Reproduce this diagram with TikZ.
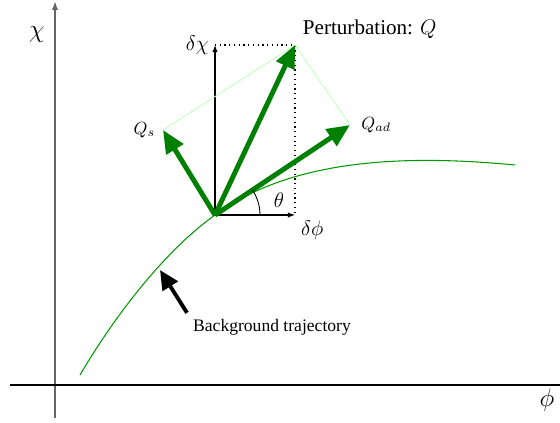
\documentclass[tikz,border=0pt]{standalone}
\usepackage{amsmath,amssymb}
\usepackage{fontspec}
\setmainfont{Liberation Serif}
\usetikzlibrary{arrows.meta,positioning,calc}

\tikzset{
  axis/.style={line width=0.8pt},
  pert/.style={green!50!black,line width=2.8pt,
               -{Triangle[length=13pt,width=11pt]}},
  comp/.style={green!25,line width=0.5pt},
  proj/.style={dotted,line width=0.7pt},
  small axis/.style={line width=0.6pt,-{Latex[length=4pt,width=3pt]}},
  bgarrow/.style={line width=2.2pt,-{Triangle[length=11pt,width=10pt]}},
}

\begin{document}
\begin{tikzpicture}[x=0.02cm,y=0.02cm]
\useasboundingbox (0,0) rectangle (560,422);
% Axes
\coordinate (chibot) at (55,4);
\coordinate (chitop) at (55,421);
\coordinate (phil) at (10,37);
\coordinate (phir) at (560,37);
\draw[axis,black!60,-{Latex[length=5pt,width=3.5pt]}] (chibot) -- (chitop);
\draw[axis] (phil) -- (phir);
\node (chilab) at (37,387) {\Large $\chi$};
\node (philab) at (547,22) {\Large $\phi$};

% Perturbation and its components
\coordinate (O) at (215,207);
\coordinate (Q) at (295,377);
\coordinate (Qs) at (163,292);
\coordinate (Qad) at (350,297);
\coordinate (dchi) at (215,377);
\coordinate (dphi) at (295,207);

% Background trajectory
\coordinate (trajstart) at (80,47);
\coordinate (trajend) at (515,257);
\draw[green!60!black,line width=0.6pt] (trajstart)
  .. controls (120,115) and (170,175) .. (O)
  .. controls (290,262) and (400,268) .. (trajend);

\draw[proj] (dchi) -- (Q) -- (dphi);
\draw[small axis] (O) -- (dchi);
\draw[small axis] (O) -- (dphi);
\draw[comp] (Qs) -- (Q) -- (Qad);
\draw[pert] (O) -- (Qs);
\draw[pert] (O) -- (Q);
\draw[pert] (O) -- (Qad);

% Angle
\draw[line width=0.5pt] ($(O)+(45,0)$) arc[start angle=0,end angle=33.7,radius=45];
\node (theta) at (279,222) {\large $\theta$};

% Labels
\node[left=0pt of dchi] (dchilab) {\large $\delta\chi$};
\node[below right=0pt and 0pt of dphi] (dphilab) {\large $\delta\phi$};
\node[above right=0pt and 1pt of Q] (qlab) {\large Perturbation: $Q$};
\node[left=1pt of Qs] (qslab) {$Q_s$};
\node[right=3pt of Qad] (qadlab) {$Q_{ad}$};

% Background label
\node (bglab) at (272,95) {Background trajectory};
\coordinate (bgtip) at (160,152);
\draw[bgarrow] (bglab.north west) -- (bgtip);
\end{tikzpicture}
\end{document}
